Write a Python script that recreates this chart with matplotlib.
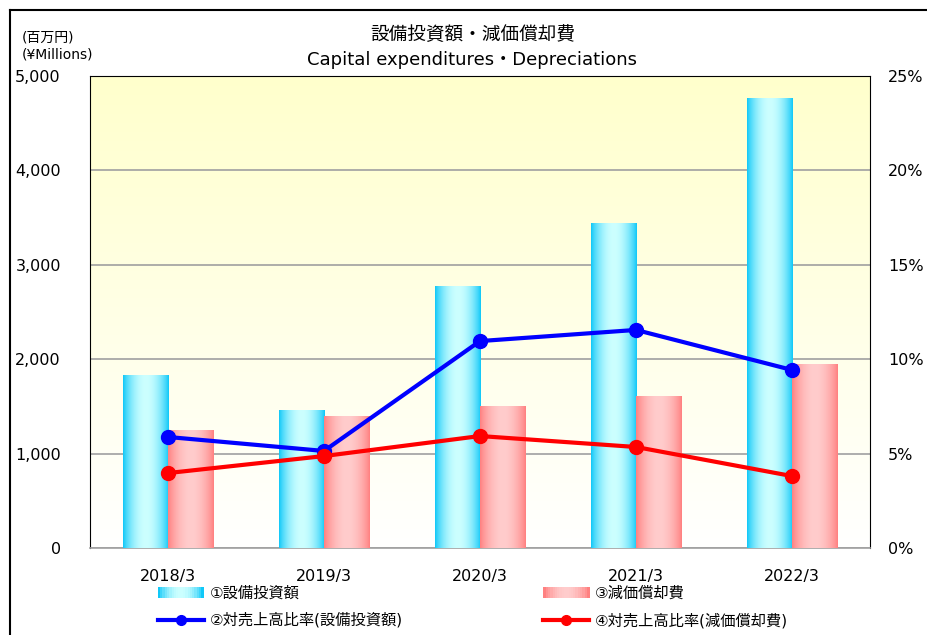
import numpy as np
import matplotlib
matplotlib.use("Agg")
import matplotlib.pyplot as plt
from matplotlib.patches import Rectangle
from matplotlib.legend_handler import HandlerBase
from matplotlib.lines import Line2D
from matplotlib.colors import to_rgb

plt.rcParams['font.family'] = ['DejaVu Sans', 'Noto Sans CJK JP']

categories = ["2018/3", "2019/3", "2020/3", "2021/3", "2022/3"]
capex = [1830, 1455, 2770, 3435, 4760]          # ①設備投資額 (百万円)
depreciation = [1240, 1390, 1495, 1600, 1940]   # ③減価償却費 (百万円)
capex_ratio = [5.88, 5.14, 10.96, 11.55, 9.43]  # ②対売上高比率(設備投資額) %
dep_ratio = [3.97, 4.87, 5.93, 5.35, 3.81]      # ④対売上高比率(減価償却費) %

left_ticks = [0, 1000, 2000, 3000, 4000, 5000]
right_ticks = [0, 5, 10, 15, 20, 25]

label_capex = "①設備投資額"
label_dep = "③減価償却費"
label_capex_ratio = "②対売上高比率(設備投資額)"
label_dep_ratio = "④対売上高比率(減価償却費)"

cyan_edge, cyan_mid = "#10C8F8", "#CCFFFF"
red_edge, red_mid = "#FF8080", "#FFCCCC"


def grad_row(edge, mid, n=64):
    t = np.linspace(0, 1, n)
    w = np.sin(np.pi * t) ** 0.8
    e = np.array(to_rgb(edge)); m = np.array(to_rgb(mid))
    return (e[None, :] * (1 - w[:, None]) + m[None, :] * w[:, None])[None, :, :]


fig = plt.figure(figsize=(9.28, 6.35), dpi=100)
ax = fig.add_axes([90 / 928, 87 / 635, 780 / 928, 472 / 635])

# background gradient
bg = np.linspace(0, 1, 256)[:, None]
top = np.array(to_rgb("#FFFFCC")); bot = np.array([1, 1, 1])
bgimg = top[None, None, :] * (1 - bg[:, :, None]) + bot[None, None, :] * bg[:, :, None]
ax.imshow(bgimg, extent=[0, 1, 0, 1], transform=ax.transAxes, aspect='auto', zorder=0)

x = np.arange(len(categories))
w = 0.29
b1 = ax.bar(x - w / 2, capex, width=w, color=cyan_edge, zorder=2)
b2 = ax.bar(x + w / 2, depreciation, width=w, color=red_edge, zorder=2)
for bars, (e, m) in ((b1, (cyan_edge, cyan_mid)), (b2, (red_edge, red_mid))):
    g = grad_row(e, m)
    for p in bars:
        x0, y0 = p.get_x(), p.get_y()
        ax.imshow(g, extent=[x0, x0 + p.get_width(), y0, y0 + p.get_height()],
                  aspect='auto', zorder=3, interpolation='bilinear')

ax.set_xlim(-0.5, len(categories) - 0.5)
ax.set_ylim(0, 5000)
ax.set_yticks(left_ticks)
ax.set_yticklabels([f"{v:,}" for v in left_ticks])
ax.set_xticks(x)
ax.set_xticklabels(categories)
ax.yaxis.grid(True, color="#A0A0A0", linewidth=1.2, zorder=1)
ax.set_axisbelow(True)
ax.tick_params(axis='y', length=0, pad=21, labelsize=11.5)
ax.tick_params(axis='x', length=0, pad=15, labelsize=11.5)
for s in ("top", "left", "right"):
    ax.spines[s].set_color("black")
ax.spines["bottom"].set_color("#A0A0A0")
ax.spines["bottom"].set_linewidth(1.2)

ax2 = ax.twinx()
ax2.plot(x, capex_ratio, color="#0000FF", lw=3, marker='o', ms=10, zorder=5)
ax2.plot(x, dep_ratio, color="#FF0000", lw=3, marker='o', ms=10, zorder=5)
ax2.set_ylim(0, 25)
ax2.set_yticks(right_ticks)
ax2.set_yticklabels([f"{v}%" for v in right_ticks])
ax2.tick_params(axis='y', length=0, pad=13, labelsize=11.5)
for s in ax2.spines.values():
    s.set_visible(False)

fig.text(0.509, 1 - 35 / 635, "設備投資額・減価償却費", ha='center', va='center', fontsize=13.4)
fig.text(0.509, 1 - 60 / 635, "Capital expenditures・Depreciations", ha='center', va='center', fontsize=13)
fig.text(22 / 928, 1 - 46 / 635, "(百万円)\n(¥Millions)", ha='left', va='center', fontsize=10, linespacing=1.25)


class GradHandler(HandlerBase):
    def __init__(self, edge, mid):
        super().__init__()
        self.edge, self.mid = edge, mid

    def create_artists(self, legend, orig, xd, yd, width, height, fontsize, trans):
        g = grad_row(self.edge, self.mid, 20)[0]
        arts = []
        h = height * 1.0
        for i, c in enumerate(g):
            r = Rectangle((xd + width * i / 20, -yd + (height - h) / 2), width / 20 + 0.3, h,
                          facecolor=c, edgecolor='none', transform=trans)
            arts.append(r)
        return arts


h1 = Rectangle((0, 0), 1, 1, label=label_capex)
h2 = Rectangle((0, 0), 1, 1, label=label_dep)
l1 = Line2D([], [], color="#0000FF", lw=3, marker='o', ms=7, label=label_capex_ratio)
l2 = Line2D([], [], color="#FF0000", lw=3, marker='o', ms=7, label=label_dep_ratio)
fig.legend(handles=[h1, l1, h2, l2], ncol=2, loc='center left',
           bbox_to_anchor=(144 / 928, 1 - 607 / 635), frameon=False, fontsize=11,
           handlelength=3.0, handletextpad=0.4, columnspacing=9.2, labelspacing=0.75,
           handler_map={h1: GradHandler(cyan_edge, cyan_mid), h2: GradHandler(red_edge, red_mid)})

fig.add_artist(Line2D([10 / 928, 1], [1 - 10 / 635, 1 - 10 / 635], transform=fig.transFigure,
                      color='black', lw=1.5))
fig.add_artist(Line2D([10 / 928, 10 / 928], [0, 1 - 10 / 635], transform=fig.transFigure,
                      color='black', lw=1.5))

fig.savefig("out.png", dpi=100)
